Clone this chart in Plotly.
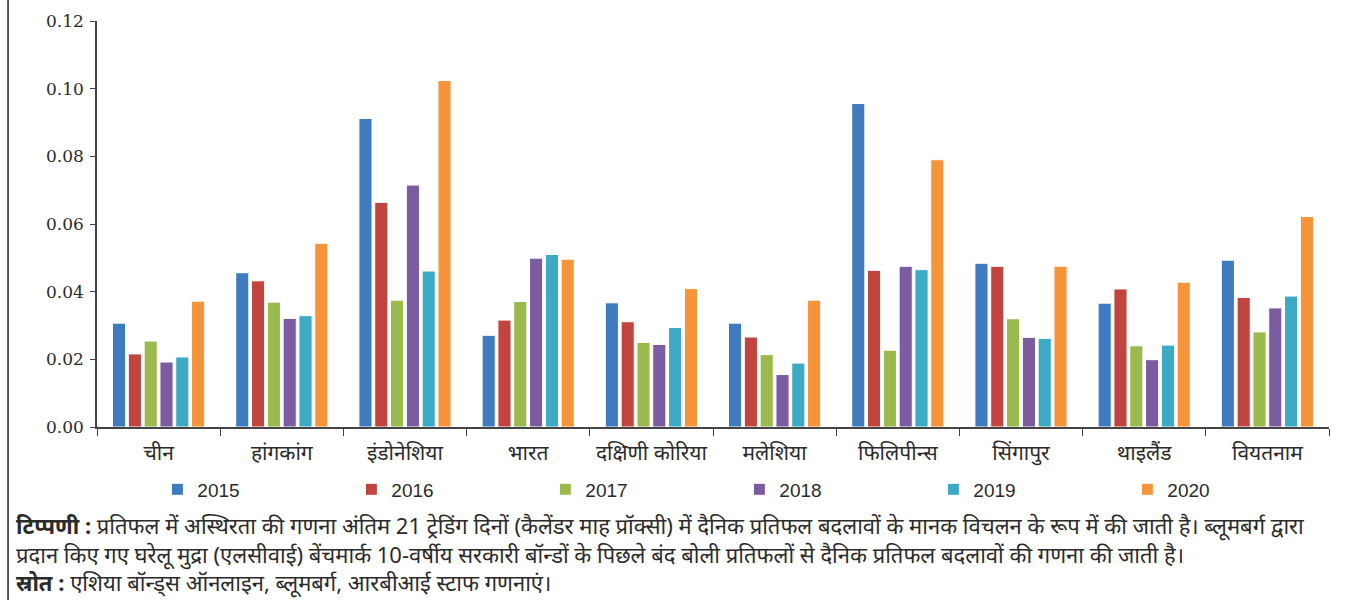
import plotly.graph_objects as go

# Countries (x-axis categories)
countries = ["चीन", "हांगकांग", "इंडोनेशिया", "भारत", "दक्षिणी कोरिया",
             "मलेशिया", "फिलिपीन्स", "सिंगापुर", "थाइलैंड", "वियतनाम"]

years = ["2015", "2016", "2017", "2018", "2019", "2020"]

# Yield volatility per country, one list per year
v2015 = [0.0307, 0.0456, 0.0912, 0.0271, 0.0367, 0.0307, 0.0956, 0.0484, 0.0366, 0.0493]
v2016 = [0.0216, 0.0432, 0.0664, 0.0316, 0.0311, 0.0266, 0.0463, 0.0475, 0.0408, 0.0383]
v2017 = [0.0254, 0.0369, 0.0375, 0.0371, 0.0250, 0.0214, 0.0227, 0.0320, 0.0240, 0.0281]
v2018 = [0.0192, 0.0321, 0.0715, 0.0499, 0.0244, 0.0155, 0.0475, 0.0265, 0.0199, 0.0352]
v2019 = [0.0207, 0.0329, 0.0461, 0.0510, 0.0294, 0.0189, 0.0465, 0.0262, 0.0242, 0.0387]
v2020 = [0.0372, 0.0543, 0.1024, 0.0496, 0.0409, 0.0375, 0.0790, 0.0475, 0.0428, 0.0622]

series = [v2015, v2016, v2017, v2018, v2019, v2020]
colors = ["#3F7BBF", "#C1443F", "#9BBA4E", "#7C5CA1", "#3CA9C5", "#F6943A"]

y_ticks = [0, 0.02, 0.04, 0.06, 0.08, 0.10, 0.12]

note_text = ("<b>टिप्पणी :</b> प्रतिफल में अस्थिरता की गणना अंतिम 21 ट्रेडिंग दिनों (कैलेंडर माह प्रॉक्सी) "
             "में दैनिक प्रतिफल बदलावों के मानक विचलन के रूप में की जाती है। ब्लूमबर्ग द्वारा<br>"
             "प्रदान किए गए घरेलू मुद्रा (एलसीवाई) बेंचमार्क 10-वर्षीय सरकारी बॉन्डों के पिछले बंद बोली "
             "प्रतिफलों से दैनिक प्रतिफल बदलावों की गणना की जाती है।<br>"
             "<b>स्रोत :</b> एशिया बॉन्ड्स ऑनलाइन, ब्लूमबर्ग, आरबीआई स्टाफ गणनाएं।")

FONT = "Noto Sans, sans-serif"
TXT = "#2b2b2b"

fig = go.Figure()
for name, vals, col in zip(years, series, colors):
    fig.add_trace(go.Bar(
        name=name, x=countries, y=vals,
        marker=dict(color=col, line=dict(color="white", width=1)),
    ))

fig.update_layout(
    width=1358, height=600,
    margin=dict(l=97, r=29, t=21, b=173),
    paper_bgcolor="white", plot_bgcolor="white",
    barmode="group", bargap=0.23, bargroupgap=0.17,
    font=dict(family=FONT, color=TXT, size=17),
    showlegend=True,
    legend=dict(
        orientation="h", x=0.049, xanchor="left", y=-0.107, yanchor="top",
        entrywidth=149, entrywidthmode="pixels",
        font=dict(size=19, color=TXT, family="Liberation Sans, sans-serif"),
        itemwidth=30, tracegroupgap=0,
    ),
    xaxis=dict(
        showline=True, linecolor="#444", linewidth=1.5,
        ticks="outside", tickson="boundaries", ticklen=7, tickcolor="#444",
        tickangle=0, ticklabelstandoff=6,
        tickfont=dict(size=21, color=TXT), showgrid=False,
    ),
    yaxis=dict(
        range=[0, 0.12], tickvals=y_ticks, tickformat=".2f",
        showline=True, linecolor="#444", linewidth=1.5,
        ticks="outside", ticklen=5, tickcolor="#444", ticklabelstandoff=3,
        tickfont=dict(size=17, color=TXT, family="DejaVu Serif, serif"),
        showgrid=False, zeroline=False,
    ),
    shapes=[dict(type="line", xref="paper", yref="paper",
                 x0=-0.0722, x1=-0.0722, y0=-0.45, y1=1.06,
                 line=dict(color="#222", width=1.5))],
    annotations=[dict(
        text=note_text, xref="paper", yref="paper",
        x=-0.0675, y=-0.2, xanchor="left", yanchor="top",
        align="left", showarrow=False,
        font=dict(size=22, color=TXT, family=FONT),
    )],
)

fig.write_html("out.html")
